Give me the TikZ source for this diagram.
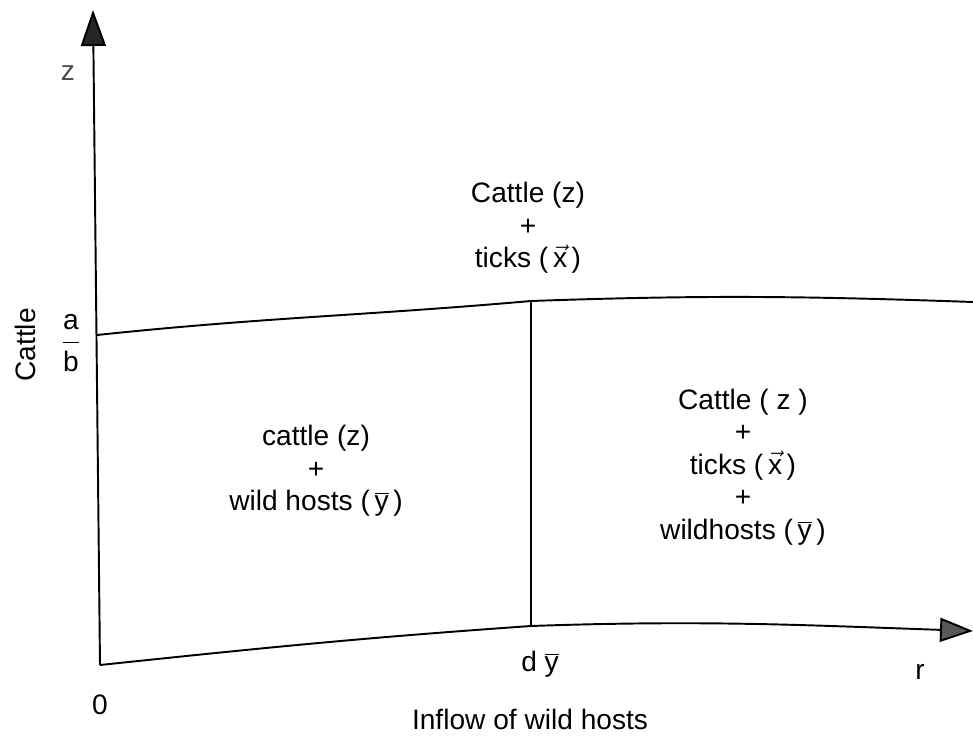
\documentclass[tikz,border=0pt]{standalone}
\usepackage{fontspec}
\setmainfont{Liberation Sans}
\usetikzlibrary{arrows.meta}

% vector / mean accents set on upright text letters
\newcommand{\xvec}{$\vec{\mbox{x}}$}
\newcommand{\ybar}{$\overline{\mbox{y}}$}

\begin{document}
\begin{tikzpicture}[
  font=\fontsize{16}{18.5}\selectfont,
  %% border lines of the three regions
  boundary/.style={line width=1.1pt, draw=black},
  %% axes with filled triangular heads
  zaxis/.style={line width=1.1pt, draw=black,
    -{Triangle[length=0.72cm, width=0.5cm, fill=black!85]}},
  raxis/.style={line width=1.1pt, draw=black,
    -{Triangle[length=0.66cm, width=0.48cm, fill=black!65]}},
  region/.style={align=center, inner sep=0pt},
  axlabel/.style={inner sep=0pt}
]
\useasboundingbox (0,0) rectangle (19.46,14.74);

%% ── corner points ──────────────────────────────────────────────
\coordinate (O)    at (2.00, 1.44);
\coordinate (ztip) at (1.86, 14.54);
\coordinate (rtip) at (19.46, 2.12);
\coordinate (dy)   at (10.62, 2.22);
\coordinate (ab)   at (1.94, 8.04);
\coordinate (top)  at (10.62, 8.72);
\coordinate (topr) at (19.46, 8.70);

%% ── axes ───────────────────────────────────────────────────────
\draw[zaxis] (O) -- (ztip);
\draw[raxis] (O) to[out=6, in=184] (dy) to[out=2, in=178] (rtip);

%% ── region borders ─────────────────────────────────────────────
\draw[boundary] (ab) to[out=6, in=185] (top) to[out=2, in=178] (topr);
\draw[boundary] (dy) -- (top);

%% ── axis labels ────────────────────────────────────────────────
\node[axlabel, text=black!70] (zlab) at (1.36, 13.28) {z};
\node[axlabel, rotate=90] (cattle) at (0.50, 7.84) {Cattle};
\node[axlabel] (ablab) at (1.42, 7.88)
  {$\displaystyle\frac{\mbox{a}}{\mbox{b}}$};
\node[axlabel] (zero) at (2.00, 0.64) {0};
\node[axlabel] (dylab) at (10.80, 1.46) {d \ybar};
\node[axlabel] (rlab) at (18.40, 1.30) {r};
\node[axlabel] (inflow) at (10.60, 0.36) {Inflow of wild hosts};

%% ── regions ────────────────────────────────────────────────────
\node[region] (ticks) at (10.56, 10.18)
  {Cattle (z)\\+\\ticks (\,\xvec\,)};
\node[region] (wild) at (6.32, 5.32)
  {cattle (z)\\+\\wild hosts (\,\ybar\,)};
\node[region] (all) at (14.86, 5.40)
  {Cattle ( z )\\+\\ticks (\,\xvec\,)\\+\\wildhosts (\,\ybar\,)};

\end{tikzpicture}
\end{document}
